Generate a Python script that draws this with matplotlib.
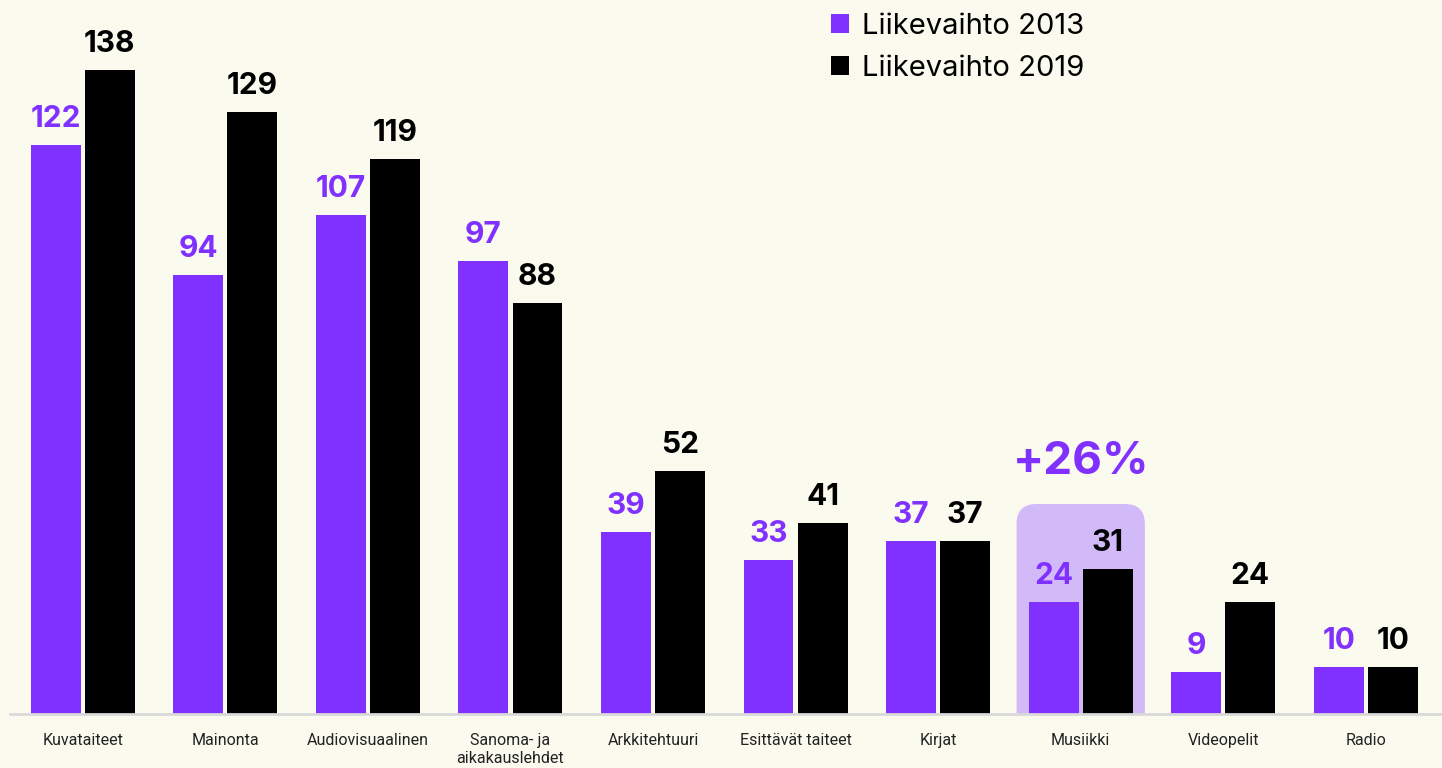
import matplotlib
matplotlib.use("Agg")
import matplotlib.pyplot as plt
import numpy as np
from matplotlib.patches import FancyBboxPatch, Patch

plt.rcParams["font.family"] = ["Inter", "DejaVu Sans"]

categories = ["Kuvataiteet", "Mainonta", "Audiovisuaalinen", "Sanoma- ja\naikakauslehdet",
              "Arkkitehtuuri", "Esittävät taiteet", "Kirjat", "Musiikki", "Videopelit", "Radio"]
rev_2013 = [122, 94, 107, 97, 39, 33, 37, 24, 9, 10]
rev_2019 = [138, 129, 119, 88, 52, 41, 37, 31, 24, 10]
highlight_idx = 7
highlight_text = "+26%"

PURPLE = "#8031FF"
BG = "#FAFAEE"

fig = plt.figure(figsize=(14.42, 7.68), dpi=100, facecolor=BG)
ax = fig.add_axes([10 / 1442, 54 / 768, 1430 / 1442, 714 / 768])
ax.set_facecolor(BG)

x = np.arange(len(categories))
w = 0.35
off = 0.19

ax.set_xlim(-0.51, len(categories) - 0.48)
ax.set_ylim(0, 153)

# highlight box behind Musiikki
hx = x[highlight_idx]
box = FancyBboxPatch((hx - 0.45, -10), 0.9, 55,
                     boxstyle="round,pad=0,rounding_size=0.14",
                     mutation_aspect=30.5, facecolor="#D2B9F7",
                     edgecolor="none", zorder=1)
ax.add_patch(box)
ax.text(hx, 54, highlight_text, ha="center", va="center", fontsize=33,
        fontweight="bold", color=PURPLE, zorder=3)

b1 = ax.bar(x - off, rev_2013, w, color=PURPLE, zorder=2)
b2 = ax.bar(x + off, rev_2019, w, color="black", zorder=2)

for rect, v in zip(b1, rev_2013):
    ax.annotate(str(v), (rect.get_x() + rect.get_width() / 2, v),
                xytext=(0, 13), textcoords="offset points", ha="center",
                va="baseline", fontsize=21.5, fontweight="bold", color=PURPLE)
for rect, v in zip(b2, rev_2019):
    ax.annotate(str(v), (rect.get_x() + rect.get_width() / 2, v),
                xytext=(0, 13), textcoords="offset points", ha="center",
                va="baseline", fontsize=21.5, fontweight="bold", color="black")

for s in ["top", "right", "left"]:
    ax.spines[s].set_visible(False)
ax.spines["bottom"].set_color("#D9D9D9")
ax.spines["bottom"].set_linewidth(2)
ax.set_yticks([])
ax.set_xticks(x)
ax.set_xticklabels(categories, fontsize=11.5, color="#222222", linespacing=1.25,
                   family="Roboto")
ax.tick_params(axis="x", length=0, pad=14)

handles = [Patch(facecolor=PURPLE, label="Liikevaihto 2013"),
           Patch(facecolor="black", label="Liikevaihto 2019")]
fig.legend(handles=handles, loc="upper left", bbox_to_anchor=(818 / 1442, 1.0),
           frameon=False, fontsize=21, handlelength=0.62, handleheight=0.62,
           handletextpad=0.45, labelspacing=0.5, borderaxespad=0.05)

fig.savefig("out.png", dpi=100, facecolor=BG)
